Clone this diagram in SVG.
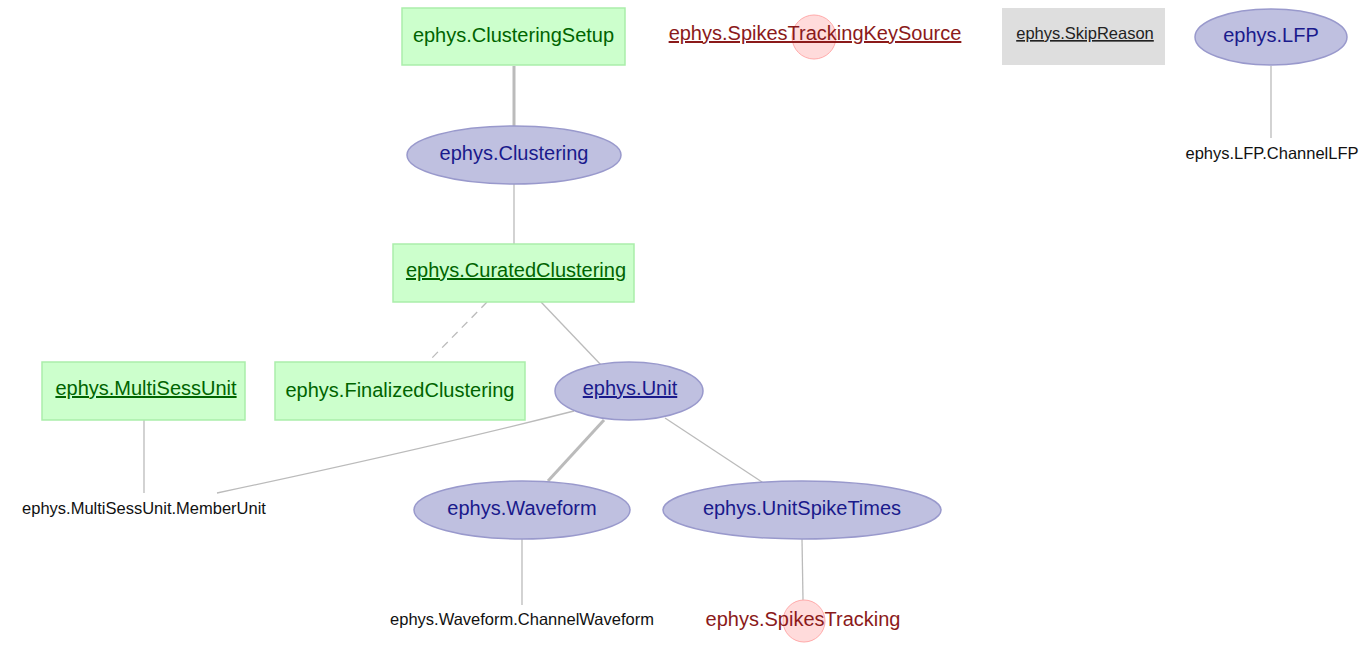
<svg xmlns="http://www.w3.org/2000/svg" width="1360" height="647" viewBox="0 0 1360 647">
<style>
text{font-family:"Liberation Sans",Arial,sans-serif;text-anchor:middle}
.man rect{fill:#ccffcc;stroke:#aaeeaa;stroke-width:1.5}
.man text{fill:#006400;font-size:20px}
.comp ellipse{fill:#bfc0e0;stroke:#9999cc;stroke-width:1.5}
.comp text{fill:#1a1a8c;font-size:20px}
.imp circle{fill:#ffcccc;fill-opacity:0.7;stroke:#ffaaaa;stroke-width:1}
.imp text{fill:#8b1a1a;font-size:20px}
.lk rect{fill:#dedede}
.lk text{fill:#222;font-size:16.5px}
.part text{fill:#111;font-size:16.5px}
.u{text-decoration:underline}
#edges line,#edges path{stroke:#bbbbbb;stroke-width:1.3;fill:none}
#edges .thick{stroke-width:3}
#edges .dash{stroke-dasharray:8,6}
</style>
<rect width="1360" height="647" fill="#ffffff"/>
<g id="edges">
<line class="thick" x1="514" y1="66" x2="514" y2="126"/>
<line x1="514" y1="184" x2="514" y2="244"/>
<line class="dash" x1="487" y1="302" x2="428" y2="362"/>
<line x1="541" y1="302" x2="602" y2="366"/>
<path d="M574,411 Q420,450 217,493"/>
<line x1="144" y1="420" x2="144" y2="493"/>
<line class="thick" x1="604" y1="420" x2="548" y2="481"/>
<line x1="665" y1="418" x2="762" y2="482"/>
<line x1="522" y1="539" x2="522" y2="605"/>
<line x1="802" y1="539" x2="803" y2="600"/>
<line x1="1271" y1="66" x2="1271" y2="138"/>
</g>
<g id="ClusteringSetup" class="man"><rect x="402" y="8" width="223" height="57"/><text x="513.5" y="42">ephys.ClusteringSetup</text></g>
<g id="SpikesTrackingKeySource" class="imp"><circle cx="814" cy="37" r="22"/><text class="u" x="815" y="40">ephys.SpikesTrackingKeySource</text></g>
<g id="SkipReason" class="lk"><rect x="1002" y="8" width="163" height="57"/><text class="u" x="1085" y="39">ephys.SkipReason</text></g>
<g id="LFP" class="comp"><ellipse cx="1271" cy="37" rx="76" ry="28"/><text x="1271" y="42">ephys.LFP</text></g>
<g id="ChannelLFP" class="part"><text x="1272" y="159">ephys.LFP.ChannelLFP</text></g>
<g id="Clustering" class="comp"><ellipse cx="514" cy="155" rx="107" ry="29"/><text x="514" y="160">ephys.Clustering</text></g>
<g id="CuratedClustering" class="man"><rect x="393" y="244" width="241" height="58"/><text class="u" x="516" y="277">ephys.CuratedClustering</text></g>
<g id="MultiSessUnit" class="man"><rect x="42" y="362" width="203" height="58"/><text class="u" x="146" y="395">ephys.MultiSessUnit</text></g>
<g id="FinalizedClustering" class="man"><rect x="275" y="362" width="250" height="58"/><text x="400" y="397">ephys.FinalizedClustering</text></g>
<g id="Unit" class="comp"><ellipse cx="629" cy="391" rx="74" ry="29"/><text class="u" x="630" y="395">ephys.Unit</text></g>
<g id="MemberUnit" class="part"><text x="144" y="514">ephys.MultiSessUnit.MemberUnit</text></g>
<g id="Waveform" class="comp"><ellipse cx="522" cy="510" rx="108" ry="29"/><text x="522" y="515">ephys.Waveform</text></g>
<g id="UnitSpikeTimes" class="comp"><ellipse cx="802" cy="510" rx="139" ry="29"/><text x="802" y="515">ephys.UnitSpikeTimes</text></g>
<g id="ChannelWaveform" class="part"><text x="522" y="625">ephys.Waveform.ChannelWaveform</text></g>
<g id="SpikesTracking" class="imp"><circle cx="804" cy="621" r="21"/><text x="803" y="626">ephys.SpikesTracking</text></g>
</svg>
